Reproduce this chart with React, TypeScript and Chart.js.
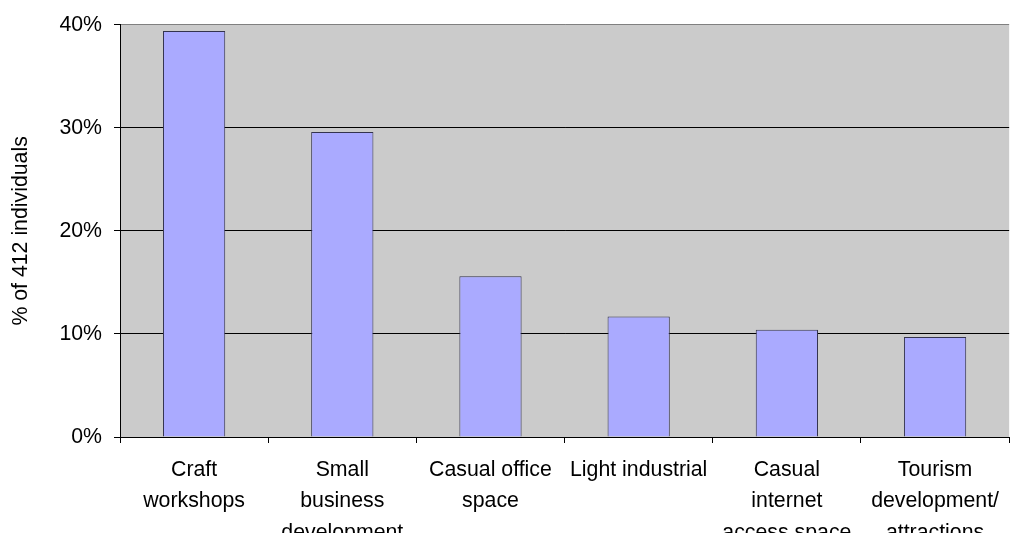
import React, { useEffect, useRef } from "react";
import { Chart, registerables } from "chart.js";

Chart.register(...registerables);

const categories: string[][] = [
  ["Craft", "workshops"],
  ["Small", "business", "development"],
  ["Casual office", "space"],
  ["Light industrial"],
  ["Casual", "internet", "access space"],
  ["Tourism", "development/", "attractions"],
];
const values: number[] = [39.4, 29.6, 15.6, 11.7, 10.4, 9.7];
const yTicks: number[] = [0, 10, 20, 30, 40];
const yTitle = "% of 412 individuals";

const bgPlugin = {
  id: "plotBg",
  beforeDraw(chart: any) {
    const { ctx, chartArea } = chart;
    ctx.save();
    ctx.fillStyle = "#CBCBCB";
    ctx.fillRect(chartArea.left, chartArea.top, chartArea.right - chartArea.left, chartArea.bottom - chartArea.top);
    ctx.restore();
  },
};

const FONT = "'Liberation Sans', Arial, sans-serif";

export default function App() {
  const ref = useRef<HTMLCanvasElement>(null);
  useEffect(() => {
    document.body.style.margin = "0";
    document.body.style.overflow = "hidden";
    const chart = new Chart(ref.current!, {
      type: "bar",
      data: {
        labels: categories,
        datasets: [
          {
            data: values,
            backgroundColor: "#AAAAFF",
            borderColor: "#33334D",
            borderWidth: 1,
            categoryPercentage: 1,
            barPercentage: 0.42,
          },
        ],
      },
      plugins: [bgPlugin],
      options: {
        animation: false,
        responsive: false,
        devicePixelRatio: 1,
        layout: { padding: { top: 22, right: 0, left: 0, bottom: 0 } },
        plugins: { legend: { display: false }, tooltip: { enabled: false } },
        scales: {
          x: {
            afterFit: (s: any) => { s.height = 96; },
            border: { display: true, color: "#000", width: 1 },
            grid: {
              offset: true,
              drawOnChartArea: false,
              drawTicks: true,
              tickLength: 6,
              tickColor: "#000",
            },
            ticks: {
              color: "#000",
              padding: 11,
              maxRotation: 0,
              autoSkip: false,
              font: { family: FONT, size: 21.3, lineHeight: 1.48 },
            },
          },
          y: {
            min: 0,
            max: 40,
            afterFit: (s: any) => { s.width = 120; },
            afterBuildTicks: (s: any) => { s.ticks = yTicks.map((v) => ({ value: v })); },
            border: { display: true, color: "#000", width: 1 },
            grid: {
              color: (c: any) => (c.tick && c.tick.value === 40 ? "#808080" : "#000"),
              lineWidth: 1,
              tickLength: 6,
              tickColor: "#000",
            },
            ticks: {
              color: "#000",
              padding: 12,
              callback: (v: any) => v + "%",
              font: { family: FONT, size: 21.3 },
            },
            title: {
              display: true,
              text: yTitle,
              color: "#000",
              padding: { top: 8.7, bottom: 0 },
              font: { family: FONT, size: 21.3 },
            },
          },
        },
      },
    });
    return () => chart.destroy();
  }, []);
  return <canvas ref={ref} width={1010} height={533} style={{ display: "block" }} />;
}
